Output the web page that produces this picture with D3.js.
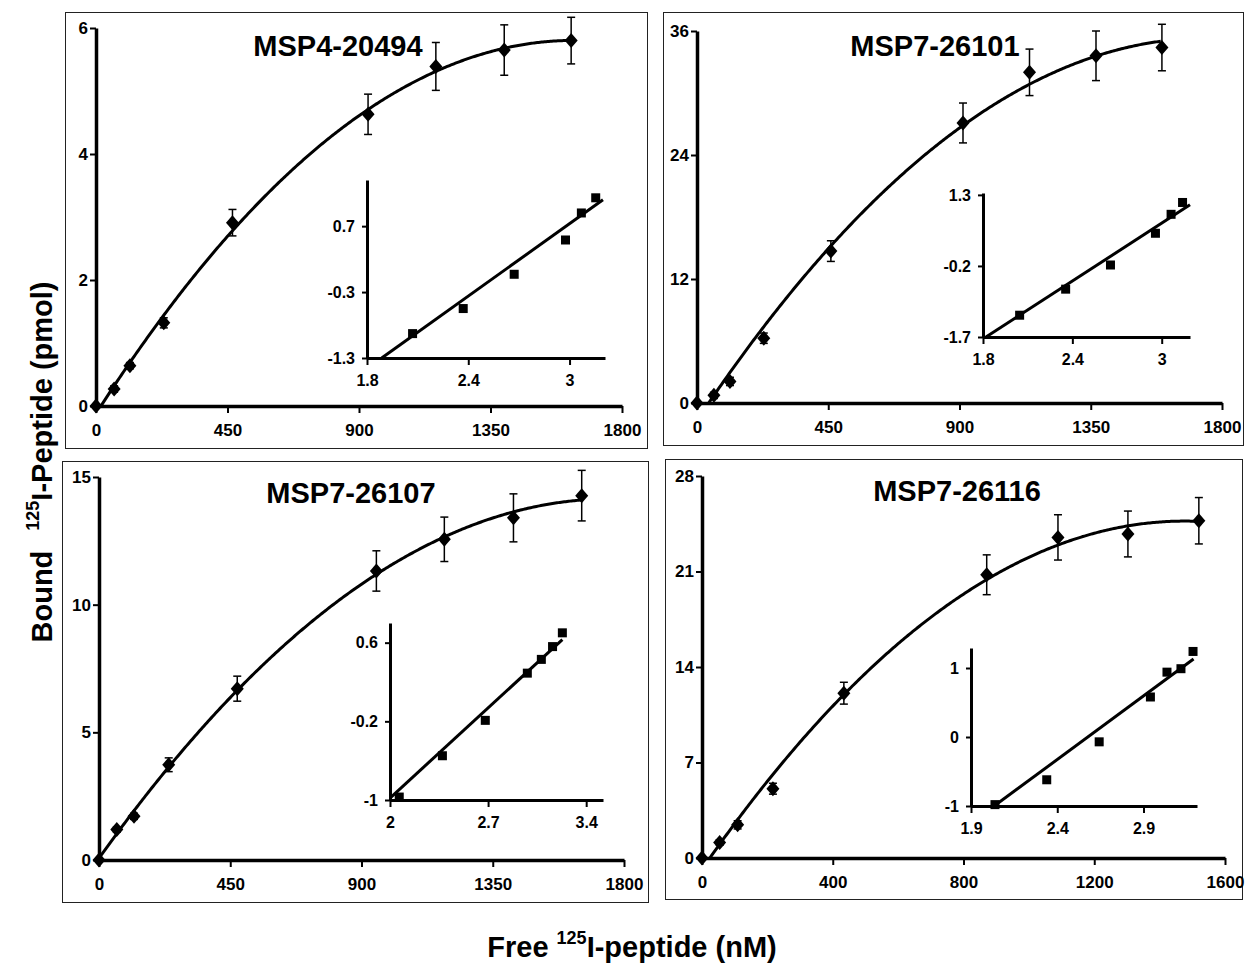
<!DOCTYPE html>
<html><head><meta charset="utf-8">
<script src="https://cdn.jsdelivr.net/npm/d3@7"></script>
<style>
body{margin:0;background:#fff}
text{font-family:"Liberation Sans",Arial,sans-serif;font-weight:bold;fill:#000}
</style>
</head><body>
<svg id="chart" width="1248" height="973"></svg>
<script>
// ---------------- DATA ----------------
const titles = ["MSP4-20494", "MSP7-26101", "MSP7-26107", "MSP7-26116"];

// main saturation panels: free peptide (nM), bound (pmol), SD
const free1  = [0, 62, 116, 232, 467, 931, 1163, 1397, 1626];
const bound1 = [0, 0.27, 0.64, 1.32, 2.91, 4.63, 5.39, 5.65, 5.80];
const err1   = [0, 0.05, 0.05, 0.08, 0.21, 0.32, 0.38, 0.40, 0.37];

const free2  = [0, 58, 113, 229, 459, 912, 1140, 1368, 1594];
const bound2 = [0, 0.74, 2.09, 6.27, 14.7, 27.1, 32.0, 33.6, 34.4];
const err2   = [0, 0.3, 0.4, 0.5, 1.0, 1.93, 2.25, 2.4, 2.25];

const free3  = [0, 61, 120, 239, 474, 951, 1184, 1421, 1655];
const bound3 = [0, 1.19, 1.71, 3.73, 6.71, 11.32, 12.56, 13.40, 14.27];
const err3   = [0, 0.1, 0.12, 0.27, 0.49, 0.79, 0.87, 0.94, 0.99];

const free4  = [0, 54, 109, 217, 434, 871, 1089, 1303, 1520];
const bound4 = [0, 1.14, 2.43, 5.08, 12.08, 20.76, 23.5, 23.75, 24.72];
const err4   = [0, 0.2, 0.3, 0.4, 0.8, 1.46, 1.66, 1.68, 1.70];

// Hill-plot insets (points)
const hillX1 = [2.07, 2.37, 2.672, 2.976, 3.07, 3.155];
const hillY1 = [-0.93, -0.55, -0.03, 0.49, 0.90, 1.13];
const hillX2 = [2.046, 2.355, 2.656, 2.958, 3.063, 3.14];
const hillY2 = [-1.24, -0.69, -0.18, 0.49, 0.89, 1.14];
const hillX3 = [2.066, 2.374, 2.68, 2.98, 3.08, 3.16, 3.23];
const hillY3 = [-0.97, -0.55, -0.19, 0.29, 0.43, 0.56, 0.70];
const hillX4 = [2.039, 2.339, 2.643, 2.94, 3.036, 3.117, 3.187];
const hillY4 = [-0.98, -0.62, -0.07, 0.58, 0.94, 0.99, 1.24];

// Hill-plot trendlines: [x, y] start and end
const hillLine1 = [[1.887, -1.30], [3.198, 1.10]];
const hillLine2 = [[1.82, -1.70], [3.19, 1.09]];
const hillLine3 = [[2.00, -0.98], [3.23, 0.63]];
const hillLine4 = [[2.04, -0.99], [3.19, 1.13]];

// tick labels
const mainXTicks1 = [0, 450, 900, 1350, 1800];
const mainXTicks4 = [0, 400, 800, 1200, 1600];
const mainYTicks1 = [0, 2, 4, 6];
const mainYTicks2 = [0, 12, 24, 36];
const mainYTicks3 = [0, 5, 10, 15];
const mainYTicks4 = [0, 7, 14, 21, 28];
const hillXTicks1 = [1.8, 2.4, 3];
const hillYTicks1 = [-1.3, -0.3, 0.7];
const hillXTicks2 = [1.8, 2.4, 3];
const hillYTicks2 = [-1.7, -0.2, 1.3];
const hillXTicks3 = [2, 2.7, 3.4];
const hillYTicks3 = [-1, -0.2, 0.6];
const hillXTicks4 = [1.9, 2.4, 2.9];
const hillYTicks4 = [-1, 0, 1];

// ---------------- LAYOUT (positions only) ----------------
const panels = [
  {title: titles[0], tx: 338, ty: 56, box: [65, 12, 647, 448],
   x: free1, y: bound1, e: err1, xd: [0, 1800], yd: [0, 6], xr: [96, 622], yr: [406, 28],
   xt: mainXTicks1, yt: mainYTicks1,
   hx: hillX1, hy: hillY1, hl: hillLine1, hxd: [1.8, 3.21], hyd: [-1.3, 1.40], hxr: [367, 605], hyr: [358, 180],
   hxt: hillXTicks1, hyt: hillYTicks1},
  {title: titles[1], tx: 935, ty: 56, box: [663, 12, 1243, 445],
   x: free2, y: bound2, e: err2, xd: [0, 1800], yd: [0, 36], xr: [697, 1222], yr: [403, 31],
   xt: mainXTicks1, yt: mainYTicks2,
   hx: hillX2, hy: hillY2, hl: hillLine2, hxd: [1.8, 3.19], hyd: [-1.7, 1.34], hxr: [983, 1190], hyr: [337, 193],
   hxt: hillXTicks2, hyt: hillYTicks2},
  {title: titles[2], tx: 351, ty: 503, box: [62, 461, 648, 902],
   x: free3, y: bound3, e: err3, xd: [0, 1800], yd: [0, 15], xr: [99, 624], yr: [860, 477],
   xt: mainXTicks1, yt: mainYTicks3,
   hx: hillX3, hy: hillY3, hl: hillLine3, hxd: [2, 3.52], hyd: [-1, 0.80], hxr: [390, 603], hyr: [800, 623],
   hxt: hillXTicks3, hyt: hillYTicks3},
  {title: titles[3], tx: 957, ty: 501, box: [665, 459, 1242, 899],
   x: free4, y: bound4, e: err4, xd: [0, 1600], yd: [0, 28], xr: [702, 1225], yr: [858, 476],
   xt: mainXTicks4, yt: mainYTicks4,
   hx: hillX4, hy: hillY4, hl: hillLine4, hxd: [1.9, 3.21], hyd: [-1, 1.29], hxr: [971, 1197], hyr: [806, 648],
   hxt: hillXTicks4, hyt: hillYTicks4}
];

// least-squares polynomial fit (Excel-style trendline of the main data)
function polyfit(xs, ys, deg) {
  const n = deg + 1;
  const A = Array.from({length: n}, () => new Array(n + 1).fill(0));
  for (let i = 0; i < xs.length; i++) {
    for (let r = 0; r < n; r++) {
      for (let c = 0; c < n; c++) A[r][c] += Math.pow(xs[i], r + c);
      A[r][n] += ys[i] * Math.pow(xs[i], r);
    }
  }
  for (let p = 0; p < n; p++) {
    let m = p;
    for (let r = p + 1; r < n; r++) if (Math.abs(A[r][p]) > Math.abs(A[m][p])) m = r;
    [A[p], A[m]] = [A[m], A[p]];
    for (let r = 0; r < n; r++) {
      if (r === p) continue;
      const f = A[r][p] / A[p][p];
      for (let c = p; c <= n; c++) A[r][c] -= f * A[p][c];
    }
  }
  return A.map((row, i) => row[n] / row[i]);
}
const evalPoly = (co, x) => co.reduce((s, c, i) => s + c * Math.pow(x, i), 0);

const svg = d3.select("#chart");
const fmt = d => String(d);

panels.forEach((p, pi) => {
  const g = svg.append("g");
  // frame
  g.append("rect").attr("x", p.box[0] + 0.5).attr("y", p.box[1] + 0.5)
    .attr("width", p.box[2] - p.box[0]).attr("height", p.box[3] - p.box[1])
    .attr("fill", "none").attr("stroke", "#222").attr("stroke-width", 1);

  const xs = d3.scaleLinear().domain(p.xd).range(p.xr);
  const ys = d3.scaleLinear().domain(p.yd).range(p.yr);

  // axes
  const yAx = g.append("g").attr("transform", `translate(${p.xr[0]},0)`)
    .call(d3.axisLeft(ys).tickValues(p.yt).tickFormat(fmt).tickSize(6).tickSizeOuter(0).tickPadding(2));
  const xAx = g.append("g").attr("transform", `translate(0,${p.yr[0]})`)
    .call(d3.axisBottom(xs).tickValues(p.xt).tickFormat(fmt).tickSize(7).tickSizeOuter(0).tickPadding(11));
  [yAx, xAx].forEach(a => {
    a.select(".domain").attr("stroke", "#000").attr("stroke-width", 3.5);
    a.selectAll(".tick line").attr("stroke", "#000").attr("stroke-width", 2);
    a.selectAll("text").style("font-size", "17px").attr("fill", "#000");
  });

  // clip
  const cid = "clip" + pi;
  svg.append("clipPath").attr("id", cid).append("rect")
    .attr("x", p.xr[0]).attr("y", p.yr[1] - 20).attr("width", p.xr[1] - p.xr[0]).attr("height", p.yr[0] - p.yr[1] + 20);

  // fitted trendline (2nd order polynomial)
  const co = polyfit(p.x, p.y, 2);
  const xmax = d3.max(p.x);
  const samples = d3.range(0, xmax + 1, 5).map(x => [x, evalPoly(co, x)]);
  g.append("path").attr("clip-path", `url(#${cid})`)
    .attr("d", d3.line().x(d => xs(d[0])).y(d => ys(d[1]))(samples))
    .attr("fill", "none").attr("stroke", "#000").attr("stroke-width", 3);

  // error bars
  const eb = g.append("g").attr("stroke", "#000").attr("stroke-width", 1.5);
  p.x.forEach((xv, i) => {
    const e = p.e[i];
    if (!e) return;
    const cx = xs(xv), y1 = ys(p.y[i] + e), y2 = ys(p.y[i] - e);
    eb.append("line").attr("x1", cx).attr("x2", cx).attr("y1", y1).attr("y2", y2);
    eb.append("line").attr("x1", cx - 4).attr("x2", cx + 4).attr("y1", y1).attr("y2", y1);
    eb.append("line").attr("x1", cx - 4).attr("x2", cx + 4).attr("y1", y2).attr("y2", y2);
  });

  // diamonds
  g.selectAll(".dia").data(p.x.map((xv, i) => [xv, p.y[i]])).enter().append("path")
    .attr("d", "M0,-7.5L6.5,0L0,7.5L-6.5,0Z")
    .attr("transform", d => `translate(${xs(d[0])},${ys(d[1])})`)
    .attr("fill", "#000");

  // title
  g.append("text").attr("x", p.tx).attr("y", p.ty).attr("text-anchor", "middle")
    .style("font-size", "29px").text(p.title);

  // ---------- inset (Hill plot) ----------
  const hx = d3.scaleLinear().domain(p.hxd).range(p.hxr);
  const hy = d3.scaleLinear().domain(p.hyd).range(p.hyr);
  const hyAx = g.append("g").attr("transform", `translate(${p.hxr[0]},0)`)
    .call(d3.axisLeft(hy).tickValues(p.hyt).tickFormat(fmt).tickSize(5).tickSizeOuter(0).tickPadding(7));
  const hxAx = g.append("g").attr("transform", `translate(0,${p.hyr[0]})`)
    .call(d3.axisBottom(hx).tickValues(p.hxt).tickFormat(fmt).tickSize(7).tickSizeOuter(0).tickPadding(10));
  [hyAx, hxAx].forEach(a => {
    a.select(".domain").attr("stroke", "#000").attr("stroke-width", 3);
    a.selectAll(".tick line").attr("stroke", "#000").attr("stroke-width", 2);
    a.selectAll("text").style("font-size", "16px").attr("fill", "#000");
  });

  g.append("path")
    .attr("d", d3.line().x(d => hx(d[0])).y(d => hy(d[1]))(p.hl))
    .attr("fill", "none").attr("stroke", "#000").attr("stroke-width", 3);

  g.selectAll(".sq").data(p.hx.map((xv, i) => [xv, p.hy[i]])).enter().append("rect")
    .attr("x", d => hx(d[0]) - 4.5).attr("y", d => hy(d[1]) - 4.5)
    .attr("width", 9).attr("height", 9).attr("fill", "#000");
});

// axis titles
const yl = svg.append("text").attr("transform", "translate(52,462) rotate(-90)")
  .attr("text-anchor", "middle").style("font-size", "29px");
yl.append("tspan").text("Bound");
yl.append("tspan").attr("dx", 20).attr("dy", -13).style("font-size", "18px").text("125");
yl.append("tspan").attr("dy", 13).text("I-Peptide (pmol)");

const xl = svg.append("text").attr("x", 632).attr("y", 957)
  .attr("text-anchor", "middle").style("font-size", "29px");
xl.append("tspan").text("Free ");
xl.append("tspan").attr("dy", -13).style("font-size", "18px").text("125");
xl.append("tspan").attr("dy", 13).text("I-peptide (nM)");
</script>
</body></html>
